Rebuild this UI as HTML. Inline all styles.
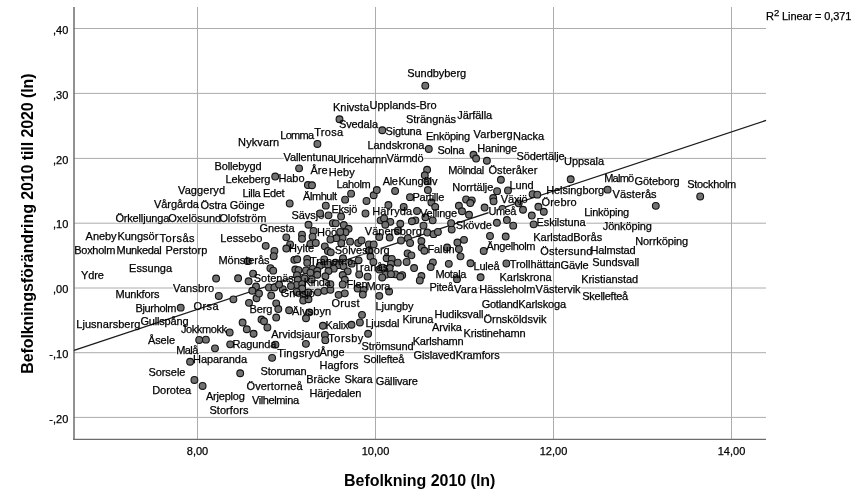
<!DOCTYPE html>
<html lang="sv"><head><meta charset="utf-8"><title>Befolkningsförändring 2010 till 2020</title>
<style>html,body{margin:0;padding:0;background:#fff}body{width:854px;height:504px;overflow:hidden}svg{display:block}text{font-family:"Liberation Sans",Arial,sans-serif;fill:#000}.l text,.t text{stroke:#000;stroke-width:0.25px}.l text{font-size:11px;letter-spacing:0px}.t text{font-size:11px}.ti{font-size:16px;font-weight:bold}.d circle{fill:#727272;stroke:#111;stroke-width:1.1}.g line{stroke:#acacac;stroke-width:1}.b rect{fill:#fff}</style></head><body>
<svg width="854" height="504" viewBox="0 0 854 504">
<rect width="854" height="504" fill="#fff"/>
<g class="g">
<line x1="74" y1="28.5" x2="766" y2="28.5"/>
<line x1="74" y1="93.4" x2="766" y2="93.4"/>
<line x1="74" y1="158.4" x2="766" y2="158.4"/>
<line x1="74" y1="223.2" x2="766" y2="223.2"/>
<line x1="74" y1="288" x2="766" y2="288"/>
<line x1="74" y1="352.7" x2="766" y2="352.7"/>
<line x1="74" y1="417.4" x2="766" y2="417.4"/>
</g>
<g class="b">
<rect x="407.4" y="71" width="59.4" height="6.4"/>
<rect x="333.2" y="105" width="36.4" height="6.4"/>
<rect x="369.8" y="103" width="67.4" height="6.4"/>
<rect x="339.2" y="122" width="39.4" height="6.4"/>
<rect x="406.2" y="117" width="50.4" height="6.4"/>
<rect x="457.4" y="113" width="35.4" height="6.4"/>
<rect x="385.8" y="129" width="36.4" height="6.4"/>
<rect x="314.4" y="130" width="29.4" height="6.4"/>
<rect x="280.4" y="133" width="34.4" height="6.4"/>
<rect x="426.2" y="134" width="44.4" height="6.4"/>
<rect x="473.8" y="132" width="39.4" height="6.4"/>
<rect x="513.3" y="134" width="31.4" height="6.4"/>
<rect x="238.3" y="140" width="41.4" height="6.4"/>
<rect x="367.6" y="143" width="57.4" height="6.4"/>
<rect x="437.6" y="148" width="27.4" height="6.4"/>
<rect x="477.4" y="146" width="40.4" height="6.4"/>
<rect x="516.8" y="154" width="48.4" height="6.4"/>
<rect x="564.2" y="159" width="40.4" height="6.4"/>
<rect x="283.8" y="155" width="50.4" height="6.4"/>
<rect x="333.4" y="157" width="54.4" height="6.4"/>
<rect x="386.7" y="156" width="37.4" height="6.4"/>
<rect x="214.7" y="164" width="47.4" height="6.4"/>
<rect x="310.8" y="168" width="17.4" height="6.4"/>
<rect x="328.9" y="170" width="26.4" height="6.4"/>
<rect x="448.4" y="168" width="36.4" height="6.4"/>
<rect x="488.6" y="168" width="49.4" height="6.4"/>
<rect x="225.6" y="177" width="45.4" height="6.4"/>
<rect x="278.7" y="176" width="26.4" height="6.4"/>
<rect x="336.8" y="182" width="34.4" height="6.4"/>
<rect x="383" y="179" width="15.4" height="6.4"/>
<rect x="398.6" y="179" width="39.4" height="6.4"/>
<rect x="452.5" y="185" width="41.4" height="6.4"/>
<rect x="509.8" y="183" width="24.4" height="6.4"/>
<rect x="604.4" y="176" width="30.4" height="6.4"/>
<rect x="634.8" y="179" width="45.4" height="6.4"/>
<rect x="687.4" y="182" width="49.4" height="6.4"/>
<rect x="546.4" y="188" width="58.4" height="6.4"/>
<rect x="612.8" y="192" width="44.4" height="6.4"/>
<rect x="178.2" y="188" width="47.4" height="6.4"/>
<rect x="242.7" y="191" width="42.4" height="6.4"/>
<rect x="303.3" y="194" width="34.4" height="6.4"/>
<rect x="412.6" y="195" width="32.4" height="6.4"/>
<rect x="500.9" y="197" width="27.4" height="6.4"/>
<rect x="541.8" y="200" width="35.4" height="6.4"/>
<rect x="154.1" y="202" width="45.4" height="6.4"/>
<rect x="200.8" y="203" width="64.4" height="6.4"/>
<rect x="331.6" y="207" width="26.4" height="6.4"/>
<rect x="372.4" y="209" width="40.4" height="6.4"/>
<rect x="420.3" y="211" width="37.4" height="6.4"/>
<rect x="584.4" y="210" width="45.4" height="6.4"/>
<rect x="291.6" y="213" width="33.4" height="6.4"/>
<rect x="115.6" y="216" width="54.4" height="6.4"/>
<rect x="168.4" y="216" width="53.4" height="6.4"/>
<rect x="219.6" y="216" width="47.4" height="6.4"/>
<rect x="536.8" y="220" width="49.4" height="6.4"/>
<rect x="456" y="223" width="36.4" height="6.4"/>
<rect x="603" y="224" width="49.4" height="6.4"/>
<rect x="259.7" y="226" width="35.4" height="6.4"/>
<rect x="317.1" y="230" width="24.4" height="6.4"/>
<rect x="365" y="229" width="57.4" height="6.4"/>
<rect x="85.8" y="234" width="31.4" height="6.4"/>
<rect x="117.6" y="234" width="41.4" height="6.4"/>
<rect x="159.8" y="236" width="35.4" height="6.4"/>
<rect x="220.5" y="236" width="42.4" height="6.4"/>
<rect x="533.5" y="235" width="40.4" height="6.4"/>
<rect x="573.4" y="235" width="29.4" height="6.4"/>
<rect x="635.4" y="239" width="53.4" height="6.4"/>
<rect x="74.5" y="248" width="41.4" height="6.4"/>
<rect x="116.8" y="248" width="45.4" height="6.4"/>
<rect x="165.6" y="248" width="42.4" height="6.4"/>
<rect x="289.3" y="246" width="25.4" height="6.4"/>
<rect x="427.7" y="247" width="27.4" height="6.4"/>
<rect x="486.7" y="244" width="49.4" height="6.4"/>
<rect x="540.5" y="249" width="52.4" height="6.4"/>
<rect x="590.8" y="248" width="45.4" height="6.4"/>
<rect x="218.7" y="258" width="51.4" height="6.4"/>
<rect x="310.3" y="259" width="43.4" height="6.4"/>
<rect x="353.7" y="265" width="35.4" height="6.4"/>
<rect x="473.7" y="264" width="26.4" height="6.4"/>
<rect x="509.9" y="262" width="51.4" height="6.4"/>
<rect x="560.8" y="263" width="28.4" height="6.4"/>
<rect x="592.4" y="260" width="47.4" height="6.4"/>
<rect x="129.3" y="266" width="43.4" height="6.4"/>
<rect x="81.1" y="273" width="23.4" height="6.4"/>
<rect x="254" y="276" width="40.4" height="6.4"/>
<rect x="303.9" y="280" width="27.4" height="6.4"/>
<rect x="435.6" y="272" width="31.4" height="6.4"/>
<rect x="499.8" y="275" width="52.4" height="6.4"/>
<rect x="581.4" y="277" width="57.4" height="6.4"/>
<rect x="346.8" y="282" width="21.4" height="6.4"/>
<rect x="366.6" y="284" width="24.4" height="6.4"/>
<rect x="429.7" y="285" width="24.4" height="6.4"/>
<rect x="454.3" y="287" width="23.4" height="6.4"/>
<rect x="479.5" y="287" width="56.4" height="6.4"/>
<rect x="535.8" y="287" width="45.4" height="6.4"/>
<rect x="582.4" y="294" width="46.4" height="6.4"/>
<rect x="173.3" y="286" width="41.4" height="6.4"/>
<rect x="115.6" y="292" width="44.4" height="6.4"/>
<rect x="281" y="291" width="34.4" height="6.4"/>
<rect x="331.7" y="301" width="28.4" height="6.4"/>
<rect x="375.7" y="304" width="38.4" height="6.4"/>
<rect x="481.9" y="302" width="37.4" height="6.4"/>
<rect x="518.4" y="302" width="48.4" height="6.4"/>
<rect x="135.7" y="306" width="41.4" height="6.4"/>
<rect x="193.8" y="304" width="25.4" height="6.4"/>
<rect x="249.6" y="307" width="23.4" height="6.4"/>
<rect x="292.3" y="309" width="39.4" height="6.4"/>
<rect x="434.6" y="312" width="49.4" height="6.4"/>
<rect x="402.6" y="317" width="31.4" height="6.4"/>
<rect x="483.6" y="317" width="63.4" height="6.4"/>
<rect x="76.5" y="322" width="64.4" height="6.4"/>
<rect x="140.7" y="319" width="48.4" height="6.4"/>
<rect x="325.6" y="323" width="23.4" height="6.4"/>
<rect x="365.6" y="321" width="34.4" height="6.4"/>
<rect x="432.1" y="325" width="30.4" height="6.4"/>
<rect x="181.2" y="327" width="46.4" height="6.4"/>
<rect x="271.4" y="332" width="49.4" height="6.4"/>
<rect x="463.8" y="331" width="62.4" height="6.4"/>
<rect x="148.2" y="338" width="27.4" height="6.4"/>
<rect x="328.5" y="336" width="35.4" height="6.4"/>
<rect x="412.9" y="339" width="51.4" height="6.4"/>
<rect x="232.6" y="342" width="44.4" height="6.4"/>
<rect x="361.8" y="344" width="52.4" height="6.4"/>
<rect x="176.5" y="348" width="22.4" height="6.4"/>
<rect x="277.4" y="351" width="43.4" height="6.4"/>
<rect x="319.8" y="350" width="25.4" height="6.4"/>
<rect x="413.7" y="353" width="42.4" height="6.4"/>
<rect x="455.9" y="353" width="44.4" height="6.4"/>
<rect x="193.2" y="357" width="54.4" height="6.4"/>
<rect x="363.5" y="357" width="41.4" height="6.4"/>
<rect x="319.6" y="363" width="39.4" height="6.4"/>
<rect x="148.6" y="370" width="37.4" height="6.4"/>
<rect x="260.8" y="369" width="46.4" height="6.4"/>
<rect x="306.5" y="377" width="34.4" height="6.4"/>
<rect x="344.7" y="377" width="28.4" height="6.4"/>
<rect x="376" y="379" width="42.4" height="6.4"/>
<rect x="246.8" y="384" width="56.4" height="6.4"/>
<rect x="152.4" y="388" width="39.4" height="6.4"/>
<rect x="309.6" y="391" width="52.4" height="6.4"/>
<rect x="206.1" y="394" width="39.4" height="6.4"/>
<rect x="252.2" y="398" width="47.4" height="6.4"/>
<rect x="209.6" y="408" width="39.4" height="6.4"/>
</g>
<g class="g">
<line x1="197.5" y1="7" x2="197.5" y2="439.3"/>
<line x1="375.5" y1="7" x2="375.5" y2="439.3"/>
<line x1="553.5" y1="7" x2="553.5" y2="439.3"/>
<line x1="731.5" y1="7" x2="731.5" y2="439.3"/>
</g>
<line x1="74" y1="7" x2="74" y2="439.95" stroke="#6c6c6c" stroke-width="1.5"/>
<line x1="73.25" y1="439.3" x2="766" y2="439.3" stroke="#6c6c6c" stroke-width="1.3"/>
<line x1="74" y1="350.4" x2="766" y2="120.4" stroke="#1a1a1a" stroke-width="1.25"/>
<g class="b">
<rect x="334.9" y="248" width="55.4" height="6.4"/>
</g>
<g class="d">
<circle cx="425.3" cy="85.65" r="3.4"/>
<circle cx="339.5" cy="119.25" r="3.4"/>
<circle cx="382.3" cy="130.25" r="3.4"/>
<circle cx="317.4" cy="143.95" r="3.4"/>
<circle cx="428.8" cy="148.95" r="3.4"/>
<circle cx="473.5" cy="154.75" r="3.4"/>
<circle cx="476.1" cy="158.55" r="3.4"/>
<circle cx="486.9" cy="160.75" r="3.4"/>
<circle cx="299.1" cy="168.35" r="3.4"/>
<circle cx="427.1" cy="169.75" r="3.4"/>
<circle cx="275.2" cy="176.55" r="3.4"/>
<circle cx="307.9" cy="185.05" r="3.4"/>
<circle cx="312" cy="185.25" r="3.4"/>
<circle cx="289.7" cy="203.45" r="3.4"/>
<circle cx="325.8" cy="205.65" r="3.4"/>
<circle cx="328.5" cy="215.35" r="3.4"/>
<circle cx="341.1" cy="216.55" r="3.4"/>
<circle cx="345.1" cy="199.65" r="3.4"/>
<circle cx="351.1" cy="193.65" r="3.4"/>
<circle cx="366.5" cy="200.95" r="3.4"/>
<circle cx="373.7" cy="195.25" r="3.4"/>
<circle cx="376.8" cy="190.05" r="3.4"/>
<circle cx="365.5" cy="213.45" r="3.4"/>
<circle cx="380.6" cy="220.35" r="3.4"/>
<circle cx="424.8" cy="175.25" r="3.4"/>
<circle cx="427.3" cy="181.25" r="3.4"/>
<circle cx="427.9" cy="190.05" r="3.4"/>
<circle cx="395.1" cy="190.95" r="3.4"/>
<circle cx="410" cy="197.15" r="3.4"/>
<circle cx="388.4" cy="205.05" r="3.4"/>
<circle cx="403.7" cy="206.95" r="3.4"/>
<circle cx="417" cy="210.95" r="3.4"/>
<circle cx="431.4" cy="202.55" r="3.4"/>
<circle cx="435.2" cy="206.85" r="3.4"/>
<circle cx="425.4" cy="217.25" r="3.4"/>
<circle cx="432.7" cy="220.35" r="3.4"/>
<circle cx="415.4" cy="220.35" r="3.4"/>
<circle cx="411.9" cy="221.25" r="3.4"/>
<circle cx="384.1" cy="218.45" r="3.4"/>
<circle cx="466.1" cy="199.45" r="3.4"/>
<circle cx="471.8" cy="200.35" r="3.4"/>
<circle cx="470.3" cy="203.05" r="3.4"/>
<circle cx="458.9" cy="205.75" r="3.4"/>
<circle cx="462" cy="211.25" r="3.4"/>
<circle cx="469" cy="214.75" r="3.4"/>
<circle cx="484.6" cy="207.55" r="3.4"/>
<circle cx="500.9" cy="179.75" r="3.4"/>
<circle cx="497.1" cy="191.15" r="3.4"/>
<circle cx="508" cy="190.45" r="3.4"/>
<circle cx="532.6" cy="194.15" r="3.4"/>
<circle cx="537.3" cy="194.65" r="3.4"/>
<circle cx="493.2" cy="198.05" r="3.4"/>
<circle cx="493.6" cy="201.35" r="3.4"/>
<circle cx="502.4" cy="208.95" r="3.4"/>
<circle cx="518.7" cy="203.35" r="3.4"/>
<circle cx="523" cy="209.75" r="3.4"/>
<circle cx="538.4" cy="206.75" r="3.4"/>
<circle cx="543.8" cy="211.75" r="3.4"/>
<circle cx="531.8" cy="215.55" r="3.4"/>
<circle cx="496.9" cy="222.75" r="3.4"/>
<circle cx="506.9" cy="220.05" r="3.4"/>
<circle cx="513.2" cy="225.65" r="3.4"/>
<circle cx="533.6" cy="224.35" r="3.4"/>
<circle cx="490" cy="235.95" r="3.4"/>
<circle cx="505.7" cy="236.55" r="3.4"/>
<circle cx="506.4" cy="263.45" r="3.4"/>
<circle cx="570.7" cy="179.25" r="3.4"/>
<circle cx="607.6" cy="189.65" r="3.4"/>
<circle cx="655.8" cy="205.85" r="3.4"/>
<circle cx="700.2" cy="196.45" r="3.4"/>
<circle cx="308.5" cy="224.75" r="3.4"/>
<circle cx="313.5" cy="230.95" r="3.4"/>
<circle cx="312.6" cy="236.65" r="3.4"/>
<circle cx="302" cy="234.65" r="3.4"/>
<circle cx="302" cy="238.85" r="3.4"/>
<circle cx="286.3" cy="237.35" r="3.4"/>
<circle cx="290.1" cy="244.45" r="3.4"/>
<circle cx="286.3" cy="248.55" r="3.4"/>
<circle cx="310.4" cy="243.85" r="3.4"/>
<circle cx="315.8" cy="242.95" r="3.4"/>
<circle cx="332.9" cy="223.15" r="3.4"/>
<circle cx="335.8" cy="223.35" r="3.4"/>
<circle cx="343.8" cy="225.05" r="3.4"/>
<circle cx="348.6" cy="228.75" r="3.4"/>
<circle cx="345.5" cy="232.25" r="3.4"/>
<circle cx="342.6" cy="237.85" r="3.4"/>
<circle cx="341.3" cy="243.15" r="3.4"/>
<circle cx="336.4" cy="238.15" r="3.4"/>
<circle cx="330.4" cy="239.45" r="3.4"/>
<circle cx="350.1" cy="241.65" r="3.4"/>
<circle cx="358.2" cy="242.95" r="3.4"/>
<circle cx="361.5" cy="240.45" r="3.4"/>
<circle cx="324.8" cy="246.35" r="3.4"/>
<circle cx="327.9" cy="251.05" r="3.4"/>
<circle cx="330.8" cy="252.35" r="3.4"/>
<circle cx="368.9" cy="244.45" r="3.4"/>
<circle cx="373.7" cy="244.45" r="3.4"/>
<circle cx="368.9" cy="250.75" r="3.4"/>
<circle cx="370.5" cy="256.55" r="3.4"/>
<circle cx="373.4" cy="261.95" r="3.4"/>
<circle cx="294.3" cy="259.85" r="3.4"/>
<circle cx="297.2" cy="259.25" r="3.4"/>
<circle cx="307.2" cy="258.85" r="3.4"/>
<circle cx="307.2" cy="262.85" r="3.4"/>
<circle cx="358.6" cy="260.35" r="3.4"/>
<circle cx="343" cy="258.25" r="3.4"/>
<circle cx="335.4" cy="262.65" r="3.4"/>
<circle cx="338.9" cy="265.15" r="3.4"/>
<circle cx="343.6" cy="266.35" r="3.4"/>
<circle cx="351.7" cy="263.65" r="3.4"/>
<circle cx="324.2" cy="259.45" r="3.4"/>
<circle cx="327.9" cy="264.45" r="3.4"/>
<circle cx="319.8" cy="265.75" r="3.4"/>
<circle cx="333.8" cy="268.65" r="3.4"/>
<circle cx="328.5" cy="271.05" r="3.4"/>
<circle cx="295.3" cy="269.55" r="3.4"/>
<circle cx="298.5" cy="270.15" r="3.4"/>
<circle cx="306" cy="270.35" r="3.4"/>
<circle cx="312.6" cy="268.85" r="3.4"/>
<circle cx="317.3" cy="270.75" r="3.4"/>
<circle cx="310.4" cy="272.65" r="3.4"/>
<circle cx="347.7" cy="271.35" r="3.4"/>
<circle cx="379.3" cy="236.95" r="3.4"/>
<circle cx="379.3" cy="269.55" r="3.4"/>
<circle cx="297" cy="275.15" r="3.4"/>
<circle cx="304.5" cy="278.45" r="3.4"/>
<circle cx="311.6" cy="279.45" r="3.4"/>
<circle cx="317.3" cy="274.75" r="3.4"/>
<circle cx="325.4" cy="276.25" r="3.4"/>
<circle cx="297.8" cy="279.75" r="3.4"/>
<circle cx="296.6" cy="284.85" r="3.4"/>
<circle cx="291" cy="286.05" r="3.4"/>
<circle cx="302.2" cy="284.15" r="3.4"/>
<circle cx="302.2" cy="288.55" r="3.4"/>
<circle cx="282.8" cy="289.15" r="3.4"/>
<circle cx="296.6" cy="291.95" r="3.4"/>
<circle cx="303.5" cy="295.45" r="3.4"/>
<circle cx="308.5" cy="292.35" r="3.4"/>
<circle cx="303.2" cy="300.45" r="3.4"/>
<circle cx="308.5" cy="299.25" r="3.4"/>
<circle cx="317.9" cy="292.35" r="3.4"/>
<circle cx="324.4" cy="290.85" r="3.4"/>
<circle cx="330.4" cy="289.85" r="3.4"/>
<circle cx="330.4" cy="284.15" r="3.4"/>
<circle cx="338.6" cy="294.85" r="3.4"/>
<circle cx="344.8" cy="293.35" r="3.4"/>
<circle cx="342.7" cy="275.05" r="3.4"/>
<circle cx="344.8" cy="279.75" r="3.4"/>
<circle cx="342.7" cy="284.45" r="3.4"/>
<circle cx="359.2" cy="274.45" r="3.4"/>
<circle cx="367.6" cy="276.65" r="3.4"/>
<circle cx="357.6" cy="288.55" r="3.4"/>
<circle cx="363.6" cy="289.85" r="3.4"/>
<circle cx="362.8" cy="294.55" r="3.4"/>
<circle cx="379.3" cy="295.85" r="3.4"/>
<circle cx="289.1" cy="310.25" r="3.4"/>
<circle cx="306" cy="318.25" r="3.4"/>
<circle cx="309.4" cy="312.35" r="3.4"/>
<circle cx="362" cy="314.85" r="3.4"/>
<circle cx="359.9" cy="322.45" r="3.4"/>
<circle cx="351.5" cy="324.75" r="3.4"/>
<circle cx="322.9" cy="325.75" r="3.4"/>
<circle cx="390.3" cy="221.85" r="3.4"/>
<circle cx="385.3" cy="224.75" r="3.4"/>
<circle cx="400.3" cy="223.75" r="3.4"/>
<circle cx="423.5" cy="225.65" r="3.4"/>
<circle cx="451.7" cy="229.45" r="3.4"/>
<circle cx="427.3" cy="232.55" r="3.4"/>
<circle cx="433.6" cy="234.15" r="3.4"/>
<circle cx="437.9" cy="231.95" r="3.4"/>
<circle cx="389.7" cy="237.55" r="3.4"/>
<circle cx="397.8" cy="230.65" r="3.4"/>
<circle cx="401" cy="240.45" r="3.4"/>
<circle cx="407.9" cy="238.15" r="3.4"/>
<circle cx="410.1" cy="242.95" r="3.4"/>
<circle cx="421.4" cy="241.05" r="3.4"/>
<circle cx="421.7" cy="247.55" r="3.4"/>
<circle cx="424.4" cy="250.75" r="3.4"/>
<circle cx="457.4" cy="242.55" r="3.4"/>
<circle cx="464" cy="239.85" r="3.4"/>
<circle cx="458.9" cy="249.05" r="3.4"/>
<circle cx="460.5" cy="256.35" r="3.4"/>
<circle cx="447.1" cy="247.55" r="3.4"/>
<circle cx="483.7" cy="250.95" r="3.4"/>
<circle cx="407.6" cy="253.45" r="3.4"/>
<circle cx="411.4" cy="255.35" r="3.4"/>
<circle cx="406.6" cy="261.95" r="3.4"/>
<circle cx="386.6" cy="258.25" r="3.4"/>
<circle cx="391.8" cy="258.85" r="3.4"/>
<circle cx="397.8" cy="262.65" r="3.4"/>
<circle cx="391" cy="263.85" r="3.4"/>
<circle cx="389.7" cy="268.05" r="3.4"/>
<circle cx="382.8" cy="267.65" r="3.4"/>
<circle cx="414.1" cy="268.05" r="3.4"/>
<circle cx="432.9" cy="262.35" r="3.4"/>
<circle cx="430.7" cy="267.05" r="3.4"/>
<circle cx="448.8" cy="263.85" r="3.4"/>
<circle cx="470.5" cy="263.25" r="3.4"/>
<circle cx="451.1" cy="223.15" r="3.4"/>
<circle cx="385.6" cy="274.65" r="3.4"/>
<circle cx="395.3" cy="274.35" r="3.4"/>
<circle cx="402.2" cy="275.15" r="3.4"/>
<circle cx="400.3" cy="276.65" r="3.4"/>
<circle cx="382.2" cy="277.45" r="3.4"/>
<circle cx="391" cy="274.15" r="3.4"/>
<circle cx="421.4" cy="276.05" r="3.4"/>
<circle cx="419.8" cy="280.45" r="3.4"/>
<circle cx="457" cy="279.15" r="3.4"/>
<circle cx="480.6" cy="277.25" r="3.4"/>
<circle cx="389.1" cy="291.45" r="3.4"/>
<circle cx="265.7" cy="245.85" r="3.4"/>
<circle cx="274.4" cy="250.95" r="3.4"/>
<circle cx="273.7" cy="256.15" r="3.4"/>
<circle cx="247.8" cy="261.15" r="3.4"/>
<circle cx="270.4" cy="268.15" r="3.4"/>
<circle cx="273.2" cy="270.65" r="3.4"/>
<circle cx="253.1" cy="273.65" r="3.4"/>
<circle cx="238.1" cy="278.25" r="3.4"/>
<circle cx="216.1" cy="278.55" r="3.4"/>
<circle cx="248.6" cy="281.25" r="3.4"/>
<circle cx="256" cy="286.55" r="3.4"/>
<circle cx="269" cy="287.45" r="3.4"/>
<circle cx="274.4" cy="287.45" r="3.4"/>
<circle cx="279.1" cy="284.55" r="3.4"/>
<circle cx="218.8" cy="295.95" r="3.4"/>
<circle cx="233.4" cy="299.35" r="3.4"/>
<circle cx="249" cy="302.85" r="3.4"/>
<circle cx="256.5" cy="298.25" r="3.4"/>
<circle cx="259" cy="293.55" r="3.4"/>
<circle cx="252.3" cy="290.75" r="3.4"/>
<circle cx="271.2" cy="295.55" r="3.4"/>
<circle cx="276.2" cy="303.35" r="3.4"/>
<circle cx="278.3" cy="309.05" r="3.4"/>
<circle cx="276.2" cy="317.55" r="3.4"/>
<circle cx="261.5" cy="319.55" r="3.4"/>
<circle cx="264" cy="321.25" r="3.4"/>
<circle cx="267.4" cy="327.45" r="3.4"/>
<circle cx="242.6" cy="322.55" r="3.4"/>
<circle cx="246.8" cy="329.25" r="3.4"/>
<circle cx="253.6" cy="333.75" r="3.4"/>
<circle cx="229.7" cy="332.45" r="3.4"/>
<circle cx="199.2" cy="339.95" r="3.4"/>
<circle cx="205.9" cy="339.65" r="3.4"/>
<circle cx="215" cy="348.35" r="3.4"/>
<circle cx="230.2" cy="344.35" r="3.4"/>
<circle cx="275.4" cy="344.65" r="3.4"/>
<circle cx="305.9" cy="343.85" r="3.4"/>
<circle cx="324.9" cy="334.95" r="3.4"/>
<circle cx="325.3" cy="340.15" r="3.4"/>
<circle cx="368.1" cy="333.75" r="3.4"/>
<circle cx="180.7" cy="307.65" r="3.4"/>
<circle cx="190.1" cy="361.75" r="3.4"/>
<circle cx="194.4" cy="379.95" r="3.4"/>
<circle cx="202.6" cy="385.95" r="3.4"/>
<circle cx="272.1" cy="357.85" r="3.4"/>
<circle cx="240.2" cy="373.25" r="3.4"/>
</g>
<g class="b">
<rect x="488.6" y="209" width="28.4" height="6.4"/>
</g>
<g class="l">
<text x="407.2" y="77" textLength="59">Sundbyberg</text>
<text x="333" y="111" textLength="36">Knivsta</text>
<text x="369.6" y="109" textLength="67">Upplands-Bro</text>
<text x="339" y="128" textLength="39">Svedala</text>
<text x="406" y="123" textLength="50">Strängnäs</text>
<text x="457.2" y="119" textLength="35">Järfälla</text>
<text x="385.6" y="135" textLength="36">Sigtuna</text>
<text x="314.2" y="136" textLength="29">Trosa</text>
<text x="280.2" y="139" textLength="34">Lomma</text>
<text x="426" y="140" textLength="44">Enköping</text>
<text x="473.6" y="138" textLength="39">Varberg</text>
<text x="513.1" y="140" textLength="31">Nacka</text>
<text x="238.1" y="146" textLength="41">Nykvarn</text>
<text x="367.4" y="149" textLength="57">Landskrona</text>
<text x="437.4" y="154" textLength="27">Solna</text>
<text x="477.2" y="152" textLength="40">Haninge</text>
<text x="516.6" y="160" textLength="48">Södertälje</text>
<text x="564" y="165" textLength="40">Uppsala</text>
<text x="283.6" y="161" textLength="50">Vallentuna</text>
<text x="333.2" y="163" textLength="54">Ulricehamn</text>
<text x="386.5" y="162" textLength="37">Värmdö</text>
<text x="214.5" y="170" textLength="47">Bollebygd</text>
<text x="310.6" y="174" textLength="17">Åre</text>
<text x="328.7" y="176" textLength="26">Heby</text>
<text x="448.2" y="174" textLength="36">Mölndal</text>
<text x="488.4" y="174" textLength="49">Österåker</text>
<text x="225.4" y="183" textLength="45">Lekeberg</text>
<text x="278.5" y="182" textLength="26">Habo</text>
<text x="336.6" y="188" textLength="34">Laholm</text>
<text x="382.8" y="185" textLength="15">Ale</text>
<text x="398.4" y="185" textLength="39">Kungälv</text>
<text x="452.3" y="191" textLength="41">Norrtälje</text>
<text x="509.6" y="189" textLength="24">Lund</text>
<text x="604.2" y="182" textLength="30">Malmö</text>
<text x="634.6" y="185" textLength="45">Göteborg</text>
<text x="687.2" y="188" textLength="49">Stockholm</text>
<text x="546.2" y="194" textLength="58">Helsingborg</text>
<text x="612.6" y="198" textLength="44">Västerås</text>
<text x="178" y="194" textLength="47">Vaggeryd</text>
<text x="242.5" y="197" textLength="42">Lilla Edet</text>
<text x="303.1" y="200" textLength="34">Älmhult</text>
<text x="412.4" y="201" textLength="32">Partille</text>
<text x="500.7" y="203" textLength="27">Växjö</text>
<text x="541.6" y="206" textLength="35">Örebro</text>
<text x="153.9" y="208" textLength="45">Vårgårda</text>
<text x="200.6" y="209" textLength="64">Östra Göinge</text>
<text x="331.4" y="213" textLength="26">Eksjö</text>
<text x="372.2" y="215" textLength="40">Härryda</text>
<text x="420.1" y="217" textLength="37">Vellinge</text>
<text x="488.4" y="215" textLength="28">Umeå</text>
<text x="584.2" y="216" textLength="45">Linköping</text>
<text x="291.4" y="219" textLength="33">Sävsjö</text>
<text x="115.4" y="222" textLength="54">Örkelljunga</text>
<text x="168.2" y="222" textLength="53">Oxelösund</text>
<text x="219.4" y="222" textLength="47">Olofström</text>
<text x="536.6" y="226" textLength="49">Eskilstuna</text>
<text x="455.8" y="229" textLength="36">Skövde</text>
<text x="602.8" y="230" textLength="49">Jönköping</text>
<text x="259.5" y="232" textLength="35">Gnesta</text>
<text x="316.9" y="236" textLength="24">Höör</text>
<text x="364.8" y="235" textLength="57">Vänersborg</text>
<text x="85.6" y="240" textLength="31">Aneby</text>
<text x="117.4" y="240" textLength="41">Kungsör</text>
<text x="159.6" y="242" textLength="35">Torsås</text>
<text x="220.3" y="242" textLength="42">Lessebo</text>
<text x="533.3" y="241" textLength="40">Karlstad</text>
<text x="573.2" y="241" textLength="29">Borås</text>
<text x="635.2" y="245" textLength="53">Norrköping</text>
<text x="74.3" y="254" textLength="41">Boxholm</text>
<text x="116.6" y="254" textLength="45">Munkedal</text>
<text x="165.4" y="254" textLength="42">Perstorp</text>
<text x="289.1" y="252" textLength="25">Hylte</text>
<text x="334.7" y="254" textLength="55">Sölvesborg</text>
<text x="427.5" y="253" textLength="27">Falun</text>
<text x="486.5" y="250" textLength="49">Ängelholm</text>
<text x="540.3" y="255" textLength="52">Östersund</text>
<text x="590.6" y="254" textLength="45">Halmstad</text>
<text x="218.5" y="264" textLength="51">Mönsterås</text>
<text x="310.1" y="265" textLength="43">Tranemo</text>
<text x="353.5" y="271" textLength="35">Tranås</text>
<text x="473.5" y="270" textLength="26">Luleå</text>
<text x="509.7" y="268" textLength="51">Trollhättan</text>
<text x="560.6" y="269" textLength="28">Gävle</text>
<text x="592.2" y="266" textLength="47">Sundsvall</text>
<text x="129.1" y="272" textLength="43">Essunga</text>
<text x="80.9" y="279" textLength="23">Ydre</text>
<text x="253.8" y="282" textLength="40">Sotenäs</text>
<text x="303.7" y="286" textLength="27">Kinda</text>
<text x="435.4" y="278" textLength="31">Motala</text>
<text x="499.6" y="281" textLength="52">Karlskrona</text>
<text x="581.2" y="283" textLength="57">Kristianstad</text>
<text x="346.6" y="288" textLength="21">Flen</text>
<text x="366.4" y="290" textLength="24">Mora</text>
<text x="429.5" y="291" textLength="24">Piteå</text>
<text x="454.1" y="293" textLength="23">Vara</text>
<text x="479.3" y="293" textLength="56">Hässleholm</text>
<text x="535.6" y="293" textLength="45">Västervik</text>
<text x="582.2" y="300" textLength="46">Skellefteå</text>
<text x="173.1" y="292" textLength="41">Vansbro</text>
<text x="115.4" y="298" textLength="44">Munkfors</text>
<text x="280.8" y="297" textLength="34">Gnosjö</text>
<text x="331.5" y="307" textLength="28">Orust</text>
<text x="375.5" y="310" textLength="38">Ljungby</text>
<text x="481.7" y="308" textLength="37">Gotland</text>
<text x="518.2" y="308" textLength="48">Karlskoga</text>
<text x="135.5" y="312" textLength="41">Bjurholm</text>
<text x="193.6" y="310" textLength="25">Orsa</text>
<text x="249.4" y="313" textLength="23">Berg</text>
<text x="292.1" y="315" textLength="39">Älvsbyn</text>
<text x="434.4" y="318" textLength="49">Hudiksvall</text>
<text x="402.4" y="323" textLength="31">Kiruna</text>
<text x="483.4" y="323" textLength="63">Örnsköldsvik</text>
<text x="76.3" y="328" textLength="64">Ljusnarsberg</text>
<text x="140.5" y="325" textLength="48">Gullspång</text>
<text x="325.4" y="329" textLength="23">Kalix</text>
<text x="365.4" y="327" textLength="34">Ljusdal</text>
<text x="431.9" y="331" textLength="30">Arvika</text>
<text x="181" y="333" textLength="46">Jokkmokk</text>
<text x="271.2" y="338" textLength="49">Arvidsjaur</text>
<text x="463.6" y="337" textLength="62">Kristinehamn</text>
<text x="148" y="344" textLength="27">Åsele</text>
<text x="328.3" y="342" textLength="35">Torsby</text>
<text x="412.7" y="345" textLength="51">Karlshamn</text>
<text x="232.4" y="348" textLength="44">Ragunda</text>
<text x="361.6" y="350" textLength="52">Strömsund</text>
<text x="176.3" y="354" textLength="22">Malå</text>
<text x="277.2" y="357" textLength="43">Tingsryd</text>
<text x="319.6" y="356" textLength="25">Ånge</text>
<text x="413.5" y="359" textLength="42">Gislaved</text>
<text x="455.7" y="359" textLength="44">Kramfors</text>
<text x="193" y="363" textLength="54">Haparanda</text>
<text x="363.3" y="363" textLength="41">Sollefteå</text>
<text x="319.4" y="369" textLength="39">Hagfors</text>
<text x="148.4" y="376" textLength="37">Sorsele</text>
<text x="260.6" y="375" textLength="46">Storuman</text>
<text x="306.3" y="383" textLength="34">Bräcke</text>
<text x="344.5" y="383" textLength="28">Skara</text>
<text x="375.8" y="385" textLength="42">Gällivare</text>
<text x="246.6" y="390" textLength="56">Övertorneå</text>
<text x="152.2" y="394" textLength="39">Dorotea</text>
<text x="309.4" y="397" textLength="52">Härjedalen</text>
<text x="205.9" y="400" textLength="39">Arjeplog</text>
<text x="252" y="404" textLength="47">Vilhelmina</text>
<text x="209.4" y="414" textLength="39">Storfors</text>
</g>
<g class="d">
<circle cx="320.1" cy="213.45" r="3.4"/>
<circle cx="340.2" cy="231.95" r="3.4"/>
</g>
<g class="t">
<text x="68.3" y="34" text-anchor="end">,40</text>
<text x="68.3" y="99" text-anchor="end">,30</text>
<text x="68.3" y="164" text-anchor="end">,20</text>
<text x="68.3" y="228" text-anchor="end">,10</text>
<text x="68.3" y="293" text-anchor="end">,00</text>
<text x="68.3" y="358" text-anchor="end">-,10</text>
<text x="68.3" y="423" text-anchor="end">-,20</text>
<text x="197.5" y="455" text-anchor="middle">8,00</text>
<text x="375.5" y="455" text-anchor="middle">10,00</text>
<text x="553.5" y="455" text-anchor="middle">12,00</text>
<text x="731.5" y="455" text-anchor="middle">14,00</text>
<text x="766.1" y="20" style="letter-spacing:-0.1px">R<tspan dy="-3.6" font-size="9.5">2</tspan><tspan dy="3.6"> Linear = 0,371</tspan></text>
</g>
<text class="ti" x="419.7" y="485.7" text-anchor="middle" textLength="151.3">Befolkning 2010 (ln)</text>
<text class="ti" transform="translate(32.7 223.6) rotate(-90)" text-anchor="middle" textLength="300.3">Befolkningsförändring 2010 till 2020 (ln)</text>
</svg></body></html>
